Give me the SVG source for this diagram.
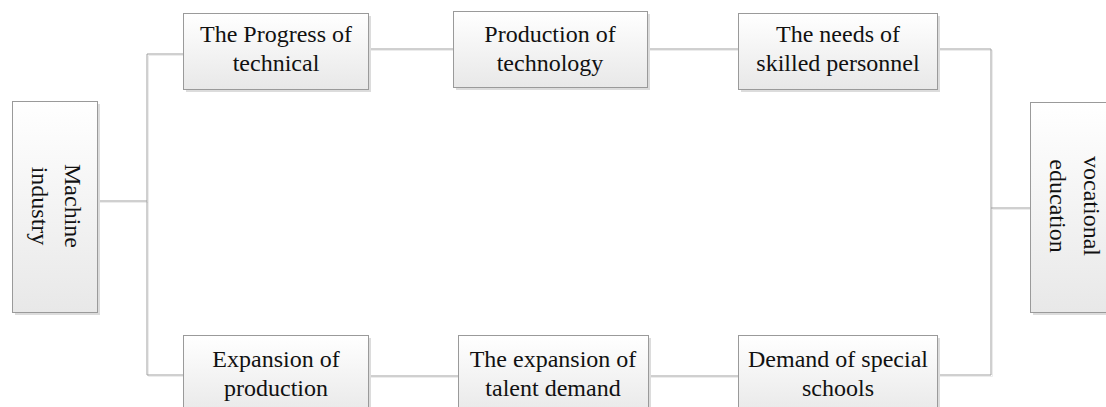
<svg xmlns="http://www.w3.org/2000/svg" width="1106" height="407" viewBox="0 0 1106 407">
<defs>
<linearGradient id="g" x1="0" y1="0" x2="0" y2="1">
<stop offset="0" stop-color="#ffffff"/>
<stop offset="1" stop-color="#e8e8e8"/>
</linearGradient>
</defs>
<style>
.box{fill:url(#g);stroke:#9a9a9a;stroke-width:1}
.sh{fill:#dcdcdc}
.t{font-size:24px;fill:#111;text-anchor:middle}
.c{fill:none;stroke:#a0a0a0;stroke-width:1}
.cs{fill:none;stroke:#ececec;stroke-width:1}
</style>
<rect width="1106" height="407" fill="#ffffff"/>
<g id="connectors">
<g transform="translate(1.5,1.5)">
<path class="cs" d="M97,201H147M183,54H147V375H183M368,49H453M647,49H738M937,49H991V375H937M991,208H1030M368,376H458M648,376H738"/>
</g>
<path class="c" d="M97,201H147M183,54H147V375H183M368,49H453M647,49H738M937,49H991V375H937M991,208H1030M368,376H458M648,376H738"/>
</g>
<g font-family="Liberation Serif, DejaVu Serif, serif">
<g id="machine">
<rect class="sh" x="15" y="104" width="85" height="211"/>
<rect class="box" x="12.5" y="101.5" width="85" height="211"/>
<text class="t" font-family="Liberation Serif, serif" transform="translate(65,206) rotate(90)">Machine</text>
<text class="t" font-family="Liberation Serif, serif" transform="translate(32,206) rotate(90)">industry</text>
</g>
<g id="progress">
<rect class="sh" x="186" y="16" width="185" height="76"/>
<rect class="box" x="183.5" y="13.5" width="185" height="76"/>
<text class="t" font-family="Liberation Serif, serif" x="276" y="42">The Progress of</text>
<text class="t" font-family="Liberation Serif, serif" x="276" y="71">technical</text>
</g>
<g id="production">
<rect class="sh" x="456" y="14" width="194" height="76"/>
<rect class="box" x="453.5" y="11.5" width="194" height="76"/>
<text class="t" font-family="Liberation Serif, serif" x="550" y="42">Production of</text>
<text class="t" font-family="Liberation Serif, serif" x="550" y="71">technology</text>
</g>
<g id="needs">
<rect class="sh" x="741" y="16" width="199" height="76"/>
<rect class="box" x="738.5" y="13.5" width="199" height="76"/>
<text class="t" font-family="Liberation Serif, serif" x="838" y="42">The needs of</text>
<text class="t" font-family="Liberation Serif, serif" x="838" y="71">skilled personnel</text>
</g>
<g id="expansion">
<rect class="sh" x="186" y="338" width="185" height="80"/>
<rect class="box" x="183.5" y="335.5" width="185" height="80"/>
<text class="t" font-family="Liberation Serif, serif" x="276" y="367">Expansion of</text>
<text class="t" font-family="Liberation Serif, serif" x="276" y="396">production</text>
</g>
<g id="talent">
<rect class="sh" x="461" y="338" width="190" height="80"/>
<rect class="box" x="458.5" y="335.5" width="190" height="80"/>
<text class="t" font-family="Liberation Serif, serif" x="553" y="367">The expansion of</text>
<text class="t" font-family="Liberation Serif, serif" x="553" y="396">talent demand</text>
</g>
<g id="demand">
<rect class="sh" x="741" y="338" width="199" height="80"/>
<rect class="box" x="738.5" y="335.5" width="199" height="80"/>
<text class="t" font-family="Liberation Serif, serif" x="838" y="367">Demand of special</text>
<text class="t" font-family="Liberation Serif, serif" x="838" y="396">schools</text>
</g>
<g id="vocational">
<rect class="sh" x="1033" y="105" width="85" height="210"/>
<rect class="box" x="1030.5" y="102.5" width="85" height="210"/>
<text class="t" font-family="Liberation Serif, serif" transform="translate(1084,206) rotate(90)">vocational</text>
<text class="t" font-family="Liberation Serif, serif" transform="translate(1050,206) rotate(90)">education</text>
</g>
</g>
</svg>
